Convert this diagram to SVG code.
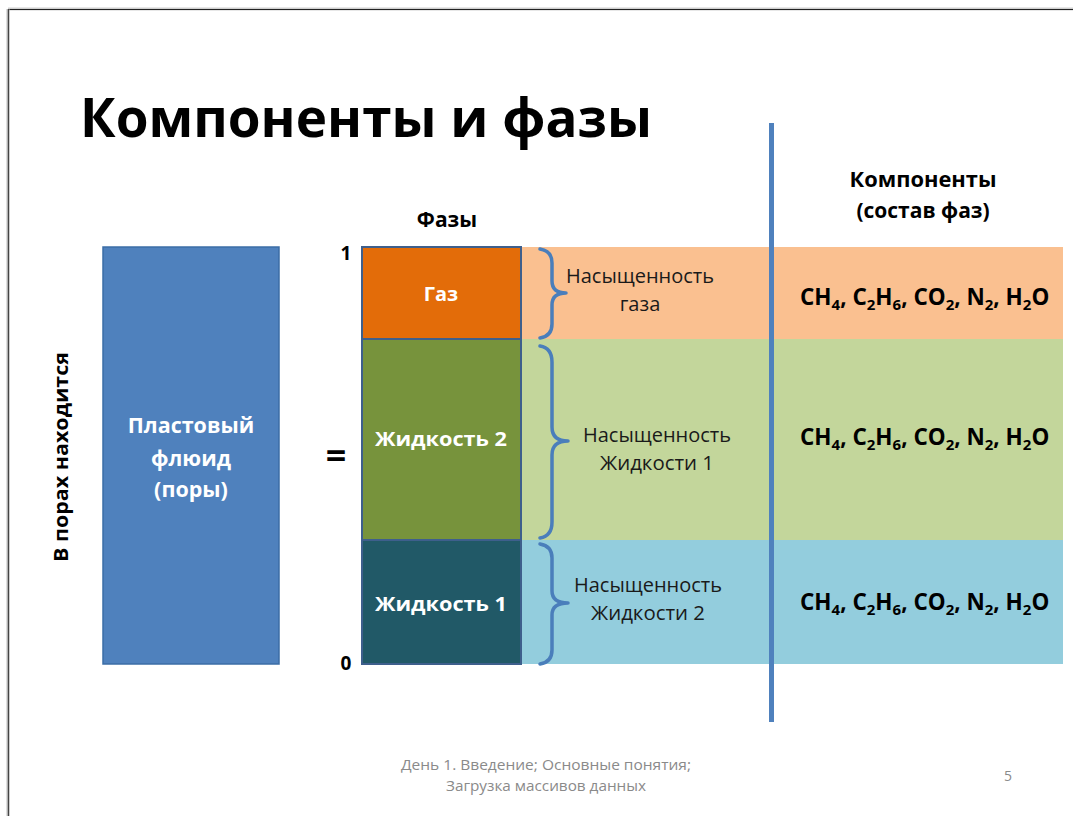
<svg xmlns="http://www.w3.org/2000/svg" width="1073" height="816" viewBox="0 0 1073 816">
  <style>
    .b { font-family: "Open Sans", "Liberation Sans", sans-serif; font-weight: 700; }
    .r { font-family: "Open Sans", "Liberation Sans", sans-serif; font-weight: 400; }
    .w { fill: #ffffff; }
    .k { fill: #000000; }
    .lbl { font-size: 20px; fill: #1a1a1a; }
    .brace { fill: none; stroke: #4A7EBB; stroke-width: 3.5; stroke-linecap: round; stroke-linejoin: round; }
    .phase { stroke: #3E5F8C; stroke-width: 2; }
    .form { font-size: 22.5px; fill: #000000; }
    .sub { font-size: 15px; }
    .foot { font-size: 14px; fill: #8a8a8a; }
  </style>

  <!-- page background and frame -->
  <rect x="0" y="0" width="1073" height="816" fill="#ffffff"/>
  <line x1="8" y1="9" x2="1073" y2="9" stroke="#cfcfcf" stroke-width="3"/>
  <line x1="8" y1="9.5" x2="1073" y2="9.5" stroke="#222222" stroke-width="1.2"/>
  <line x1="8" y1="9" x2="8" y2="816" stroke="#bdbdbd" stroke-width="3"/>
  <line x1="8.5" y1="9" x2="8.5" y2="816" stroke="#444444" stroke-width="1.2"/>

  <!-- title -->
  <text class="b k" x="80" y="137" font-size="54" textLength="572" lengthAdjust="spacingAndGlyphs">Компоненты и фазы</text>

  <!-- saturation bands -->
  <g id="bands">
    <rect x="521" y="247" width="542" height="92" fill="#FAC090"/>
    <rect x="521" y="339" width="542" height="201" fill="#C3D69B"/>
    <rect x="521" y="540" width="542" height="124" fill="#93CDDD"/>
  </g>

  <!-- pore fluid block -->
  <g id="fluid">
    <rect x="103" y="247" width="176" height="417" fill="#4F81BD" stroke="#3B6DA6" stroke-width="1.5"/>
    <text class="b w" x="191" y="433" font-size="21.5" text-anchor="middle">Пластовый</text>
    <text class="b w" x="191" y="466" font-size="21.5" text-anchor="middle">флюид</text>
    <text class="b w" x="191" y="497" font-size="21.5" text-anchor="middle">(поры)</text>
  </g>

  <g id="side-label">
    <text class="b k" x="0" y="0" font-size="19" text-anchor="middle" transform="translate(68,457) rotate(-90)" textLength="210" lengthAdjust="spacingAndGlyphs">В порах находится</text>
  </g>

  <g id="equals">
    <text class="b k" x="336" y="468" font-size="36" text-anchor="middle">=</text>
  </g>

  <!-- phase column -->
  <g id="phases-head">
    <text class="b k" x="447" y="227" font-size="21" text-anchor="middle">Фазы</text>
    <text class="b k" x="346" y="260" font-size="19" text-anchor="middle">1</text>
    <text class="b k" x="346" y="670" font-size="19" text-anchor="middle">0</text>
  </g>

  <g id="gas">
    <rect class="phase" x="362" y="247" width="159" height="92" fill="#E36C09"/>
    <text class="b w" x="441" y="301" font-size="20" text-anchor="middle">Газ</text>
  </g>
  <g id="liquid2">
    <rect class="phase" x="362" y="339" width="159" height="201" fill="#77933C"/>
    <text class="b w" x="441" y="446" font-size="20" text-anchor="middle" textLength="132" lengthAdjust="spacingAndGlyphs">Жидкость 2</text>
  </g>
  <g id="liquid1">
    <rect class="phase" x="362" y="540" width="159" height="124" fill="#215967"/>
    <text class="b w" x="441" y="611" font-size="20" text-anchor="middle" textLength="132" lengthAdjust="spacingAndGlyphs">Жидкость 1</text>
  </g>

  <!-- braces -->
  <g id="braces">
    <path class="brace" d="M540,249 Q552,251 552,263 L552,281 Q552,293 566,293 Q552,293 552,305 L552,324 Q552,336 540,338"/>
    <path class="brace" d="M540,346 Q552,348 552,362 L552,427 Q552,441 568,441 Q552,441 552,455 L552,522 Q552,536 540,538"/>
    <path class="brace" d="M540,544 Q552,546 552,558 L552,591 Q552,603 568,603 Q552,603 552,615 L552,650 Q552,662 540,664"/>
  </g>

  <g id="sat-gas">
    <text class="r lbl" x="640" y="283" text-anchor="middle" textLength="148" lengthAdjust="spacingAndGlyphs">Насыщенность</text>
    <text class="r lbl" x="640" y="311" text-anchor="middle">газа</text>
  </g>
  <g id="sat-liquid1">
    <text class="r lbl" x="657" y="442" text-anchor="middle" textLength="148" lengthAdjust="spacingAndGlyphs">Насыщенность</text>
    <text class="r lbl" x="657" y="470" text-anchor="middle" textLength="114" lengthAdjust="spacingAndGlyphs">Жидкости 1</text>
  </g>
  <g id="sat-liquid2">
    <text class="r lbl" x="648" y="592" text-anchor="middle" textLength="148" lengthAdjust="spacingAndGlyphs">Насыщенность</text>
    <text class="r lbl" x="648" y="620" text-anchor="middle" textLength="114" lengthAdjust="spacingAndGlyphs">Жидкости 2</text>
  </g>

  <!-- divider -->
  <line x1="771.5" y1="123" x2="771.5" y2="722" stroke="#4F81BD" stroke-width="5"/>

  <g id="components-head">
    <text class="b k" x="923" y="187" font-size="21" text-anchor="middle" textLength="147" lengthAdjust="spacingAndGlyphs">Компоненты</text>
    <text class="b k" x="923" y="218" font-size="21" text-anchor="middle">(состав фаз)</text>
  </g>

  <!-- phase compositions -->
  <g id="comp-gas">
    <text class="b form" x="800" y="305">CH<tspan class="sub" dy="5">4</tspan><tspan dy="-5">, C</tspan><tspan class="sub" dy="5">2</tspan><tspan dy="-5">H</tspan><tspan class="sub" dy="5">6</tspan><tspan dy="-5">, CO</tspan><tspan class="sub" dy="5">2</tspan><tspan dy="-5">, N</tspan><tspan class="sub" dy="5">2</tspan><tspan dy="-5">, H</tspan><tspan class="sub" dy="5">2</tspan><tspan dy="-5">O</tspan></text>
  </g>
  <g id="comp-liquid2">
    <text class="b form" x="800" y="445">CH<tspan class="sub" dy="5">4</tspan><tspan dy="-5">, C</tspan><tspan class="sub" dy="5">2</tspan><tspan dy="-5">H</tspan><tspan class="sub" dy="5">6</tspan><tspan dy="-5">, CO</tspan><tspan class="sub" dy="5">2</tspan><tspan dy="-5">, N</tspan><tspan class="sub" dy="5">2</tspan><tspan dy="-5">, H</tspan><tspan class="sub" dy="5">2</tspan><tspan dy="-5">O</tspan></text>
  </g>
  <g id="comp-liquid1">
    <text class="b form" x="800" y="610">CH<tspan class="sub" dy="5">4</tspan><tspan dy="-5">, C</tspan><tspan class="sub" dy="5">2</tspan><tspan dy="-5">H</tspan><tspan class="sub" dy="5">6</tspan><tspan dy="-5">, CO</tspan><tspan class="sub" dy="5">2</tspan><tspan dy="-5">, N</tspan><tspan class="sub" dy="5">2</tspan><tspan dy="-5">, H</tspan><tspan class="sub" dy="5">2</tspan><tspan dy="-5">O</tspan></text>
  </g>

  <!-- footer -->
  <g id="footer">
    <text class="r foot" x="546" y="770" text-anchor="middle" textLength="290" lengthAdjust="spacingAndGlyphs">День 1. Введение; Основные понятия;</text>
    <text class="r foot" x="546" y="791" text-anchor="middle" textLength="200" lengthAdjust="spacingAndGlyphs">Загрузка массивов данных</text>
    <text class="r foot" x="1008" y="781" text-anchor="middle">5</text>
  </g>
</svg>
